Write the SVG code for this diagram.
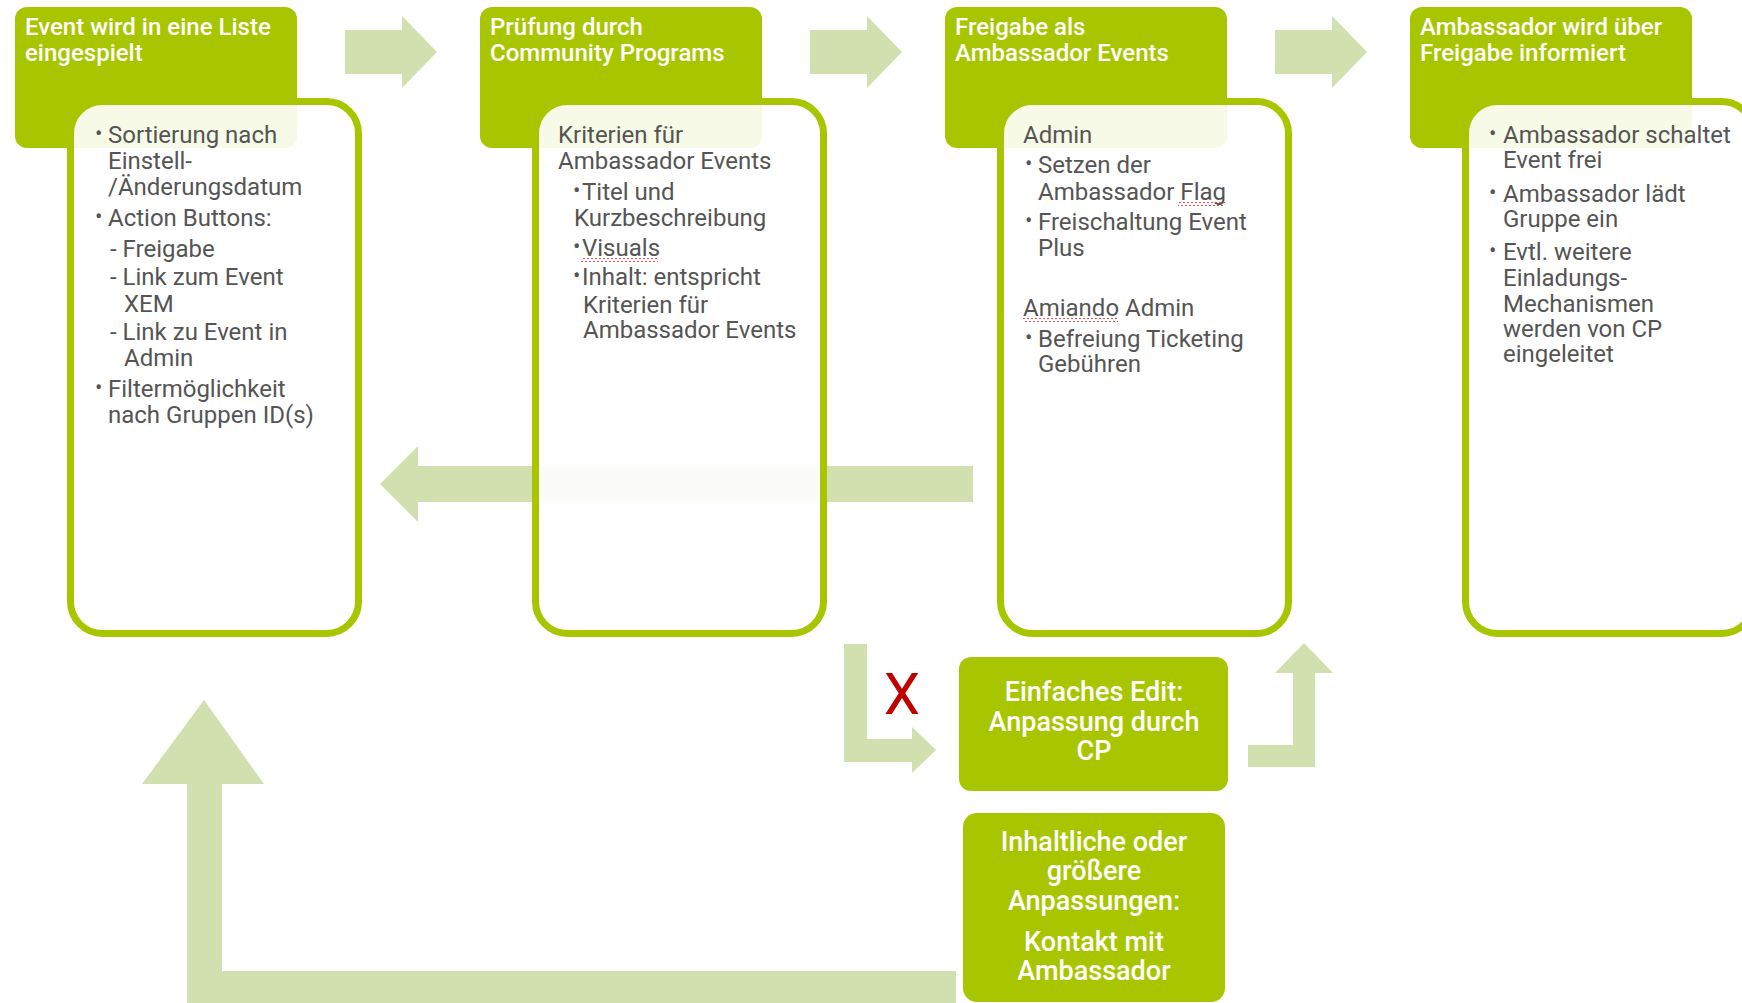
<svg xmlns="http://www.w3.org/2000/svg" width="1742" height="1003" viewBox="0 0 1742 1003">
<defs>
<style>
.hdr{fill:#a8c600}
.card{fill:#ffffff;fill-opacity:0.9;stroke:#a8c600;stroke-width:7}
.arr{fill:#d1e0ae}
.ht{font-family:Roboto,"Liberation Sans",sans-serif;font-size:24px;font-weight:500;fill:#ffffff}
.bt{font-family:Roboto,"Liberation Sans",sans-serif;font-size:24px;fill:#555555}
.bul{font-family:Roboto,"Liberation Sans",sans-serif;font-size:22px;fill:#555555}
.st{font-family:Roboto,"Liberation Sans",sans-serif;font-size:27px;font-weight:500;fill:#ffffff;text-anchor:middle}
.x{font-family:Roboto,"Liberation Sans",sans-serif;font-size:58px;fill:#c00000;text-anchor:middle}
</style>
<pattern id="wave" x="0" y="0" width="4" height="4" patternUnits="userSpaceOnUse">
<path d="M0,3 L2,1 L4,3" fill="none" stroke="#e23a3a" stroke-width="0.9"/>
</pattern>
</defs>

<g id="connectors">
<polygon class="arr" points="345,30 402,30 402,16 437,52 402,88 402,74 345,74"/>
<polygon class="arr" points="810,30 867,30 867,16 902,52 867,88 867,74 810,74"/>
<polygon class="arr" points="1275,30 1332,30 1332,16 1367,52 1332,88 1332,74 1275,74"/>
<polygon class="arr" points="973,466 418,466 418,446 380,484 418,522 418,502 973,502"/>
<polygon class="arr" points="844,644 867,644 867,739 912,739 912,727 936,750 912,773 912,762 844,762"/>
<polygon class="arr" points="1248,745 1293,745 1293,673 1275,673 1304,643 1333,673 1315,673 1315,767 1248,767"/>
<polygon class="arr" points="956,971 222,971 222,784 264,784 204,700 142,784 187,784 187,1010 956,1010"/>
</g>

<g id="step1">
<rect class="hdr" x="15" y="7" width="282" height="141" rx="12"/>
<rect class="card" x="70.5" y="101.5" width="288" height="532" rx="32"/>
<text class="ht" x="25" y="35">Event wird in eine Liste</text>
<text class="ht" x="25" y="61">eingespielt</text>
<text class="bul" x="95" y="141">•</text>
<text class="bt" x="108" y="143">Sortierung nach</text>
<text class="bt" x="108" y="169">Einstell-</text>
<text class="bt" x="108" y="195">/Änderungsdatum</text>
<text class="bul" x="95" y="224">•</text>
<text class="bt" x="108" y="226">Action Buttons:</text>
<text class="bt" x="110" y="257">- Freigabe</text>
<text class="bt" x="110" y="285">- Link zum Event</text>
<text class="bt" x="124" y="312">XEM</text>
<text class="bt" x="110" y="340">- Link zu Event in</text>
<text class="bt" x="124" y="366">Admin</text>
<text class="bul" x="95" y="395">•</text>
<text class="bt" x="108" y="397">Filtermöglichkeit</text>
<text class="bt" x="108" y="423">nach Gruppen ID(s)</text>
</g>

<g id="step2">
<rect class="hdr" x="480" y="7" width="282" height="141" rx="12"/>
<rect class="card" x="535.5" y="101.5" width="288" height="532" rx="32"/>
<text class="ht" x="490" y="35">Prüfung durch</text>
<text class="ht" x="490" y="61">Community Programs</text>
<text class="bt" x="558" y="143">Kriterien für</text>
<text class="bt" x="558" y="169">Ambassador Events</text>
<text class="bul" x="573" y="198">•</text>
<text class="bt" x="582" y="200">Titel und</text>
<text class="bt" x="574" y="226">Kurzbeschreibung</text>
<text class="bul" x="573" y="254">•</text>
<text class="bt" x="582" y="256">Visuals</text>
<rect x="581" y="258" width="77" height="4" fill="url(#wave)"/>
<text class="bul" x="573" y="283">•</text>
<text class="bt" x="582" y="285">Inhalt: entspricht</text>
<text class="bt" x="583" y="313">Kriterien für</text>
<text class="bt" x="583" y="338">Ambassador Events</text>
</g>

<g id="step3">
<rect class="hdr" x="945" y="7" width="282" height="141" rx="12"/>
<rect class="card" x="1000.5" y="101.5" width="288" height="532" rx="32"/>
<text class="ht" x="955" y="35">Freigabe als</text>
<text class="ht" x="955" y="61">Ambassador Events</text>
<text class="bt" x="1023" y="143">Admin</text>
<text class="bul" x="1025" y="171">•</text>
<text class="bt" x="1038" y="173">Setzen der</text>
<text class="bt" x="1038" y="200">Ambassador Flag</text>
<rect x="1178" y="202" width="47" height="4" fill="url(#wave)"/>
<text class="bul" x="1025" y="228">•</text>
<text class="bt" x="1038" y="230">Freischaltung Event</text>
<text class="bt" x="1038" y="256">Plus</text>
<text class="bt" x="1023" y="316">Amiando Admin</text>
<rect x="1023" y="318" width="95" height="4" fill="url(#wave)"/>
<text class="bul" x="1025" y="345">•</text>
<text class="bt" x="1038" y="347">Befreiung Ticketing</text>
<text class="bt" x="1038" y="372">Gebühren</text>
</g>

<g id="step4">
<rect class="hdr" x="1410" y="7" width="282" height="141" rx="12"/>
<rect class="card" x="1465.5" y="101.5" width="288" height="532" rx="32"/>
<text class="ht" x="1420" y="35">Ambassador wird über</text>
<text class="ht" x="1420" y="61">Freigabe informiert</text>
<text class="bul" x="1489" y="141">•</text>
<text class="bt" x="1503" y="143">Ambassador schaltet</text>
<text class="bt" x="1503" y="168">Event frei</text>
<text class="bul" x="1489" y="200">•</text>
<text class="bt" x="1503" y="202">Ambassador lädt</text>
<text class="bt" x="1503" y="227">Gruppe ein</text>
<text class="bul" x="1489" y="258">•</text>
<text class="bt" x="1503" y="260">Evtl. weitere</text>
<text class="bt" x="1503" y="286">Einladungs-</text>
<text class="bt" x="1503" y="312">Mechanismen</text>
<text class="bt" x="1503" y="337">werden von CP</text>
<text class="bt" x="1503" y="362">eingeleitet</text>
</g>

<g id="reject">
<text class="x" x="902" y="714">X</text>
</g>

<g id="simple-edit">
<rect class="hdr" x="959" y="657" width="269" height="134" rx="12"/>
<text class="st" x="1094" y="701">Einfaches Edit:</text>
<text class="st" x="1094" y="731">Anpassung durch</text>
<text class="st" x="1094" y="760">CP</text>
</g>

<g id="major-edit">
<rect class="hdr" x="963" y="813" width="262" height="189" rx="14"/>
<text class="st" x="1094" y="851">Inhaltliche oder</text>
<text class="st" x="1094" y="880">größere</text>
<text class="st" x="1094" y="910">Anpassungen:</text>
<text class="st" x="1094" y="951">Kontakt mit</text>
<text class="st" x="1094" y="980">Ambassador</text>
</g>
</svg>
